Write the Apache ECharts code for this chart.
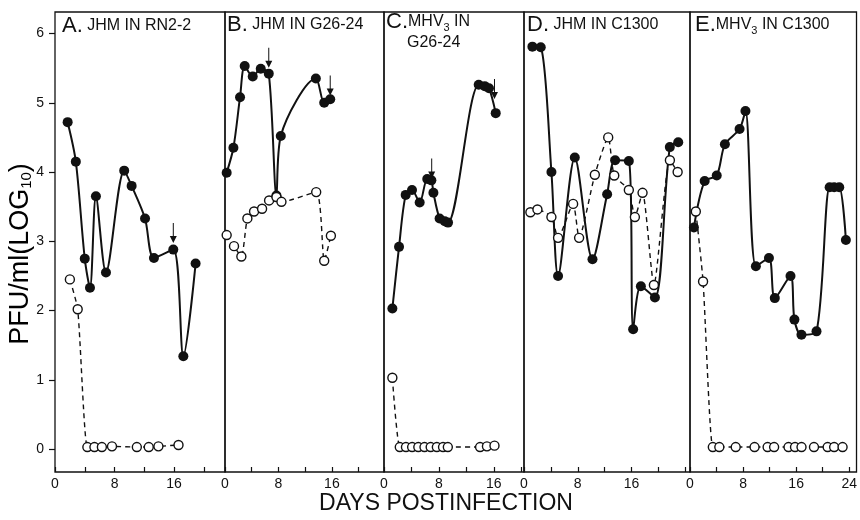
<!DOCTYPE html>
<html>
<head>
<meta charset="utf-8">
<script src="https://cdn.jsdelivr.net/npm/echarts@6/dist/echarts.min.js"></script>
<style>
html, body { margin: 0; background: #fff; }
#chart { width: 860px; height: 520px; }
</style>
</head>
<body>
<div id="chart"></div>
<script>
// days postinfection / PFU per ml (log10)
// filled circles = solid line, open circles = dashed line
var aSolidDays = [1.7, 2.8, 4.0, 4.7, 5.5, 6.85, 9.3, 10.3, 12.1, 13.3, 15.9, 17.25, 18.9];
var aSolidPfu  = [4.72, 4.15, 2.75, 2.33, 3.65, 2.55, 4.02, 3.8, 3.33, 2.76, 2.88, 1.34, 2.68];
var aOpenDays  = [2.0, 3.05, 4.35, 5.3, 6.3, 7.66, 11.0, 12.6, 13.9, 16.6];
var aOpenPfu   = [2.45, 2.02, 0.03, 0.03, 0.03, 0.04, 0.03, 0.03, 0.04, 0.06];
var aArrowDays = [15.9];
var aArrowPfu  = [3.12];

var bSolidDays = [0.25, 1.26, 2.25, 2.95, 4.15, 5.35, 6.55, 7.7, 8.35, 13.6, 14.85, 15.75];
var bSolidPfu  = [3.99, 4.35, 5.08, 5.53, 5.38, 5.49, 5.42, 3.66, 4.52, 5.35, 5.0, 5.05];
var bOpenDays  = [0.25, 1.35, 2.45, 3.35, 4.35, 5.55, 6.6, 7.7, 8.45, 13.65, 14.85, 15.85];
var bOpenPfu   = [3.09, 2.93, 2.78, 3.33, 3.43, 3.47, 3.59, 3.64, 3.57, 3.71, 2.72, 3.08];
var bArrowDays = [6.55, 15.75];
var bArrowPfu  = [5.65, 5.25];

var cSolidDays = [1.22, 2.19, 3.16, 4.08, 5.2, 6.3, 6.9, 7.2, 8.1, 8.85, 9.33, 13.8, 14.68, 15.3, 16.28];
var cSolidPfu  = [2.03, 2.92, 3.67, 3.74, 3.56, 3.9, 3.88, 3.7, 3.33, 3.29, 3.27, 5.26, 5.24, 5.21, 4.85];
var cOpenDays  = [1.22, 2.3, 3.2, 4.1, 5.0, 5.9, 6.8, 7.7, 8.6, 9.3, 14.0, 15.0, 16.1];
var cOpenPfu   = [1.03, 0.03, 0.03, 0.03, 0.03, 0.03, 0.03, 0.03, 0.03, 0.03, 0.03, 0.04, 0.05];
var cArrowDays = [6.95, 16.1];
var cArrowPfu  = [4.05, 5.2];

var dSolidDays = [1.25, 2.49, 4.08, 5.07, 7.56, 10.19, 12.37, 13.56, 15.6, 16.24, 17.39, 19.48, 21.7, 22.95];
var dSolidPfu  = [5.81, 5.8, 4.0, 2.5, 4.21, 2.74, 3.68, 4.17, 4.16, 1.73, 2.35, 2.19, 4.36, 4.43];
var dOpenDays  = [0.95, 2.0, 4.08, 5.07, 7.31, 8.2, 10.54, 12.53, 13.43, 15.6, 16.5, 17.64, 19.33, 21.71, 22.86];
var dOpenPfu   = [3.42, 3.46, 3.35, 3.05, 3.54, 3.05, 3.96, 4.5, 3.95, 3.74, 3.35, 3.7, 2.37, 4.17, 4.0];

var eSolidDays = [0.59, 2.21, 4.03, 5.26, 7.47, 8.36, 9.93, 11.9, 12.78, 15.15, 15.74, 16.8, 19.07, 21.05, 21.73, 22.5, 23.5];
var eSolidPfu  = [3.2, 3.87, 3.95, 4.4, 4.62, 4.88, 2.64, 2.76, 2.18, 2.5, 1.87, 1.65, 1.7, 3.78, 3.78, 3.78, 3.02];
var eOpenDays  = [0.88, 1.97, 3.44, 4.42, 6.89, 9.73, 11.7, 12.68, 14.85, 15.83, 16.81, 18.69, 20.75, 21.73, 23.0];
var eOpenPfu   = [3.43, 2.42, 0.03, 0.03, 0.03, 0.03, 0.03, 0.03, 0.03, 0.03, 0.03, 0.03, 0.03, 0.03, 0.03];

var yTicks = [0, 1, 2, 3, 4, 5, 6];
var dayTicks = [0, 4, 8, 12, 16, 20, 24];
var dayLabels = [0, 8, 16];
var dayLabelsE = [0, 8, 16, 24];

var ink = '#111';
var font = 'Liberation Sans, Arial, sans-serif';

function pts(days, vals) {
    return days.map(function (d, i) { return [d, vals[i]]; });
}

var panels = [
    { left: 55,  width: 170, xMax: 22.85, labels: dayLabels,  solid: pts(aSolidDays, aSolidPfu), open: pts(aOpenDays, aOpenPfu), arrows: pts(aArrowDays, aArrowPfu) },
    { left: 225, width: 159, xMax: 23.8,  labels: dayLabels,  solid: pts(bSolidDays, bSolidPfu), open: pts(bOpenDays, bOpenPfu), arrows: pts(bArrowDays, bArrowPfu) },
    { left: 384, width: 140, xMax: 20.4,  labels: dayLabels,  solid: pts(cSolidDays, cSolidPfu), open: pts(cOpenDays, cOpenPfu), arrows: pts(cArrowDays, cArrowPfu) },
    { left: 524, width: 166, xMax: 24.7,  labels: dayLabels,  solid: pts(dSolidDays, dSolidPfu), open: pts(dOpenDays, dOpenPfu), arrows: [] },
    { left: 690, width: 170, xMax: 25.1,  labels: dayLabelsE, solid: pts(eSolidDays, eSolidPfu), open: pts(eOpenDays, eOpenPfu), arrows: [] }
];

var grids = [], xAxes = [], yAxes = [], series = [];
var arrowPath = 'path://M3,0 L4,0 L4,13 L7,13 L3.5,20 L0,13 L3,13 Z';

panels.forEach(function (p, i) {
    grids.push({
        left: p.left, top: 12, width: p.width, height: 460,
        show: true, borderColor: ink, borderWidth: 1.3, backgroundColor: 'transparent'
    });
    xAxes.push({
        gridIndex: i, type: 'value', min: 0, max: p.xMax, position: 'bottom',
        axisLine: { show: false, onZero: false },
        axisTick: {
            show: true, inside: true, length: 5,
            customValues: dayTicks.filter(function (v) { return v <= p.xMax; }),
            lineStyle: { color: ink, width: 1.2 }
        },
        axisLabel: {
            customValues: p.labels,
            color: ink, fontSize: 14, fontFamily: font, margin: 5
        },
        splitLine: { show: false }
    });
    yAxes.push({
        gridIndex: i, type: 'value', min: -0.33, max: 6.31, position: 'left',
        axisLine: { show: false, onZero: false },
        axisTick: i === 0
            ? { show: true, length: 6, customValues: yTicks, lineStyle: { color: ink, width: 1.2 } }
            : { show: false },
        axisLabel: i === 0
            ? { customValues: yTicks, color: ink, fontSize: 14, fontFamily: font, margin: 11 }
            : { show: false },
        splitLine: { show: false }
    });
    series.push({
        type: 'line', xAxisIndex: i, yAxisIndex: i, data: p.solid,
        smooth: 0.3, showAllSymbol: true,
        symbol: 'circle', symbolSize: 10,
        itemStyle: { color: ink },
        lineStyle: { color: ink, width: 2 },
        z: 3
    });
    series.push({
        type: 'line', xAxisIndex: i, yAxisIndex: i, data: p.open,
        smooth: 0.2, showAllSymbol: true,
        symbol: 'circle', symbolSize: 9,
        itemStyle: { color: '#fff', borderColor: ink, borderWidth: 1.4 },
        lineStyle: { color: ink, width: 1.4, type: [5, 4] },
        z: 4
    });
    if (p.arrows.length) {
        series.push({
            type: 'scatter', xAxisIndex: i, yAxisIndex: i, data: p.arrows,
            symbol: arrowPath, symbolSize: [7, 20],
            itemStyle: { color: ink, opacity: 1 }, z: 5
        });
    }
});

var titleRich = {
    b: { fontSize: 22, fontFamily: font, color: ink },
    s: { fontSize: 16, fontFamily: font, color: ink },
    sub: { fontSize: 11, fontFamily: font, color: ink, verticalAlign: 'bottom' }
};

function label(x, y, text) {
    return {
        type: 'text', x: x, y: y,
        style: { text: text, rich: titleRich, verticalAlign: 'middle', fill: ink }
    };
}

var option = {
    animation: false,
    backgroundColor: '#fff',
    grid: grids,
    xAxis: xAxes,
    yAxis: yAxes,
    series: series,
    graphic: [
        label(62, 26, '{b|A.}{s| JHM IN RN2-2}'),
        label(227, 25, '{b|B.}{s| JHM IN G26-24}'),
        label(386, 22, '{b|C.}{s|MHV}{sub|3}{s| IN}'),
        label(407, 43, '{s|G26-24}'),
        label(527, 25, '{b|D.}{s| JHM IN C1300}'),
        label(695, 25, '{b|E.}{s|MHV}{sub|3}{s| IN C1300}'),
        {
            type: 'text', x: 446, y: 504,
            style: {
                text: 'DAYS POSTINFECTION', fill: ink, fontSize: 23, fontFamily: font,
                align: 'center', verticalAlign: 'middle'
            }
        },
        {
            type: 'text', x: 21, y: 254, rotation: Math.PI / 2,
            style: {
                text: '{m|PFU/ml(LOG}{sub|10}{m|)}', align: 'center', verticalAlign: 'middle',
                rich: {
                    m: { fontSize: 27, fontFamily: font, color: ink },
                    sub: { fontSize: 15, fontFamily: font, color: ink, verticalAlign: 'bottom' }
                }
            }
        }
    ]
};

var myChart = echarts.init(document.getElementById('chart'));
myChart.setOption(option);
</script>
</body>
</html>
